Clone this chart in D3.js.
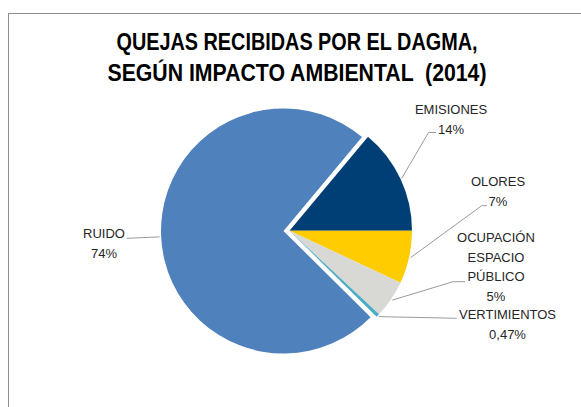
<!DOCTYPE html>
<html>
<head>
<meta charset="utf-8">
<script src="https://cdn.jsdelivr.net/npm/d3@7"></script>
<style>
  body { margin: 0; background: #fff; }
  svg { display: block; }
</style>
</head>
<body>
<svg id="chart" width="581" height="407"></svg>
<script>
// data
const categories = ["RUIDO", "EMISIONES", "OLORES", "OCUPACIÓN ESPACIO PÚBLICO", "VERTIMIENTOS"];
const values = [74, 14, 7, 5, 0.47];
const valueLabels = ["74%", "14%", "7%", "5%", "0,47%"];
const titleLines = ["QUEJAS RECIBIDAS POR EL DAGMA,", "SEGÚN IMPACTO AMBIENTAL  (2014)"];

const colors = ["#4f81bd", "#003e76", "#ffcc00", "#d8d8d4", "#4bacc6"];

const svg = d3.select("#chart");
const width = +svg.attr("width");
const height = +svg.attr("height");

// chart frame
svg.append("rect")
    .attr("x", 8.5).attr("y", 13.5)
    .attr("width", width + 20).attr("height", height + 20)
    .attr("fill", "none")
    .attr("stroke", "#8c8c8c");

// title
const titleWidths = [361, 379];
svg.append("g").selectAll("text")
    .data(titleLines)
    .enter().append("text")
    .attr("x", 297)
    .attr("y", (d, i) => 50 + i * 30.5)
    .attr("text-anchor", "middle")
    .attr("textLength", (d, i) => titleWidths[i])
    .attr("lengthAdjust", "spacingAndGlyphs")
    .style("white-space", "pre")
    .style("font-family", "'Liberation Sans', Arial, sans-serif")
    .style("font-weight", "bold")
    .style("font-size", "24px")
    .style("fill", "#000")
    .text(d => d);

// pie
const cx = 289.5, cy = 230.7, radius = 122.5;
const explode = 6; // RUIDO slice pulled out
const toRad = Math.PI / 180;
const start = 134.7 * toRad;

const pie = d3.pie().sort(null).startAngle(start).endAngle(start + 2 * Math.PI);
const arcs = pie(values);
const arc = d3.arc().innerRadius(0).outerRadius(radius);
const leaderArc = d3.arc().innerRadius(radius + 1.5).outerRadius(radius + 1.5);

function offset(d, i) {
    if (i !== 0) return [0, 0];
    const a = (d.startAngle + d.endAngle) / 2;
    return [Math.sin(a) * explode, -Math.cos(a) * explode];
}

const g = svg.append("g").attr("transform", `translate(${cx},${cy})`);

g.selectAll("path.slice")
    .data(arcs)
    .enter().append("path")
    .attr("class", "slice")
    .attr("d", arc)
    .attr("transform", (d, i) => `translate(${offset(d, i)})`)
    .attr("fill", (d, i) => colors[i]);

// label layout (page coordinates): text centre, first baseline, leader bend points
const labelLayout = [
    { x: 104, y: 238, lines: ["RUIDO"], bend: [[126.7, 238.3]] },
    { x: 451, y: 114, lines: ["EMISIONES"], bend: [[428.5, 132.5], [436, 132.5]] },
    { x: 498, y: 186, lines: ["OLORES"], bend: [[481.7, 205.7], [487, 205.7]] },
    { x: 496, y: 242, lines: ["OCUPACIÓN", "ESPACIO", "PÚBLICO"], bend: [[453, 281.7], [465, 281.7]] },
    { x: 507.5, y: 319, lines: ["VERTIMIENTOS"], bend: [[456.7, 318.3]] }
];

const lineStep = 19.5;

// leader lines
const line = d3.line();
svg.append("g").selectAll("path")
    .data(arcs)
    .enter().append("path")
    .attr("d", (d, i) => {
        const c = leaderArc.centroid(d);
        const o = offset(d, i);
        const p0 = [cx + c[0] + o[0], cy + c[1] + o[1]];
        return line([p0].concat(labelLayout[i].bend));
    })
    .attr("fill", "none")
    .attr("stroke", "#9a9a9a")
    .attr("stroke-width", 1);

// labels
const labels = svg.append("g")
    .style("font-family", "'Liberation Sans', Arial, sans-serif")
    .style("font-size", "13px")
    .style("fill", "#262626");

labelLayout.forEach((L, i) => {
    const rows = L.lines.concat([valueLabels[i]]);
    labels.selectAll(null)
        .data(rows)
        .enter().append("text")
        .attr("x", L.x)
        .attr("y", (d, j) => L.y + j * lineStep)
        .attr("text-anchor", "middle")
        .text(d => d);
});
</script>
</body>
</html>
